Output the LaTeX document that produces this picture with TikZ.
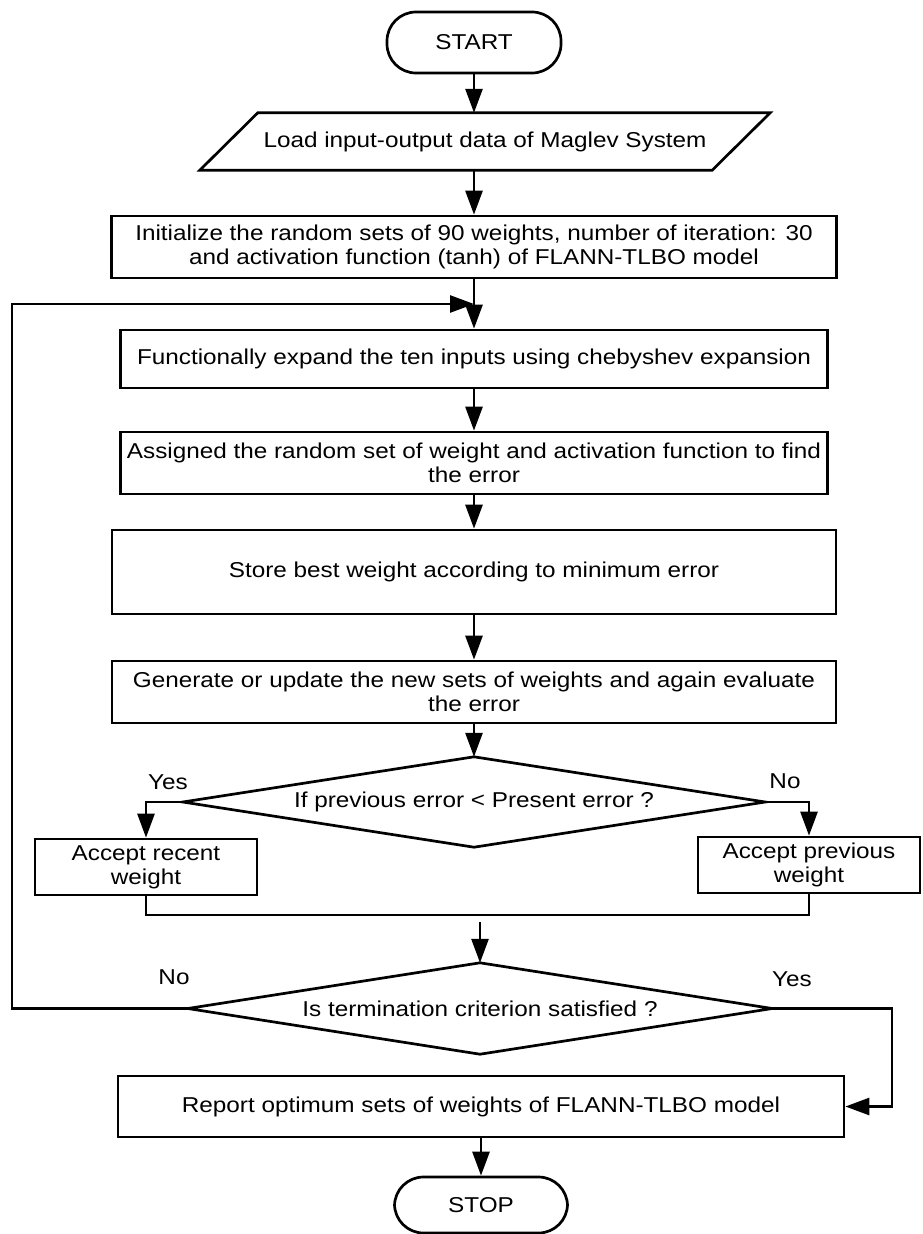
\documentclass[tikz,border=0pt]{standalone}
\usepackage{fontspec}
\setmainfont{Liberation Sans}[FakeStretch=1.13]
\usetikzlibrary{arrows.meta}
\begin{document}
\begin{tikzpicture}[x=1pt,y=-1pt]
\tikzset{
  txt/.style={font=\fontsize{21.5}{24}\selectfont},
  proc/.style={txt, draw, line width=2.7pt, rectangle, align=center, inner sep=0pt},
  term/.style={txt, draw, line width=2.7pt, rounded corners=29pt, inner sep=0pt},
  outline/.style={txt, align=center, inner sep=0pt},
  lbl/.style={txt, inner sep=0pt},
  ln/.style={line width=2.7pt},
  arr/.style={line width=2.7pt, -{Triangle[length=24pt,width=17pt]}}
}
\useasboundingbox (0,0) rectangle (922,1234);

% start and input
\node[term, minimum width=174pt, minimum height=61pt] (start) at (474,42.5) {START};
\node[outline, minimum width=570pt, minimum height=57pt] (load) at (485,141.5)
  {Load input-output data of Maglev System};
\draw[ln] (load.south west) -- ([xshift=58pt]load.north west) -- (load.north east)
  -- ([xshift=-58pt]load.south east) -- cycle;

% processing steps
\node[proc, minimum width=725pt, minimum height=62pt] (init) at (474,247)
  {Initialize the random sets of 90 weights, number of iteration: 30\\and activation function (tanh) of FLANN-TLBO model};
\coordinate (join) at (474,304);
\node[proc, minimum width=707pt, minimum height=58pt] (func) at (474,359)
  {Functionally expand the ten inputs using chebyshev expansion};
\node[proc, minimum width=707pt, minimum height=62pt] (assign) at (474,463)
  {Assigned the random set of weight and activation function to find\\the error};
\node[proc, minimum width=724pt, minimum height=84pt] (store) at (474,572)
  {Store best weight according to minimum error};
\node[proc, minimum width=724pt, minimum height=62pt] (gen) at (474,692)
  {Generate or update the new sets of weights and again evaluate\\the error};

% first decision
\node[outline, minimum width=582pt, minimum height=90pt] (dec1) at (474,802)
  {If previous error < Present error ?};
\draw[ln] (dec1.north) -- (dec1.east) -- (dec1.south) -- (dec1.west) -- cycle;
\node[lbl] (yes1) at (168,782) {Yes};
\node[lbl] (no1) at (785,781) {No};
\node[proc, minimum width=222pt, minimum height=56pt] (recent) at (146,867)
  {Accept recent\\weight};
\node[proc, minimum width=222pt, minimum height=56pt] (prev) at (809,865)
  {Accept previous\\weight};
\coordinate (merge) at (809,915);
\coordinate (mout) at (480,922);

% second decision
\node[outline, minimum width=584pt, minimum height=91pt] (dec2) at (480,1008.5)
  {Is termination criterion satisfied ?};
\draw[ln] (dec2.north) -- (dec2.east) -- (dec2.south) -- (dec2.west) -- cycle;
\node[lbl] (no2) at (174,977) {No};
\node[lbl] (yes2) at (792,979) {Yes};
\coordinate (loopb) at (12,1008.5);
\coordinate (loopt) at (12,304);
\coordinate (yesr) at (892,1008.5);

% result and end
\node[proc, minimum width=726pt, minimum height=61pt] (report) at (481,1106.5)
  {Report optimum sets of weights of FLANN-TLBO model};
\node[term, minimum width=173pt, minimum height=56pt] (stop) at (481,1205) {STOP};

% connectors
\draw[arr] (start.south) -- (start.south |- load.north);
\draw[arr] (init.north |- load.south) -- (init.north);
\draw[ln] (init.south) -- (join);
\draw[arr] (join) -- (func.north);
\draw[arr] (func.south) -- (assign.north);
\draw[arr] (assign.south) -- (store.north);
\draw[arr] (store.south) -- (gen.north);
\draw[arr] (gen.south) -- (dec1.north);
\draw[arr] (dec1.west) -| (recent.north);
\draw[arr] (dec1.east) -| (prev.north);
\draw[ln] (recent.south) |- (merge) -- (prev.south);
\draw[arr] (mout) -- (dec2.north);
\draw[arr] (dec2.west) -- (loopb) -- (loopt) -- (join);
\draw[arr] (dec2.east) -- (yesr) |- (report.east);
\draw[arr] (report.south) -- (stop.north);
\end{tikzpicture}
\end{document}
